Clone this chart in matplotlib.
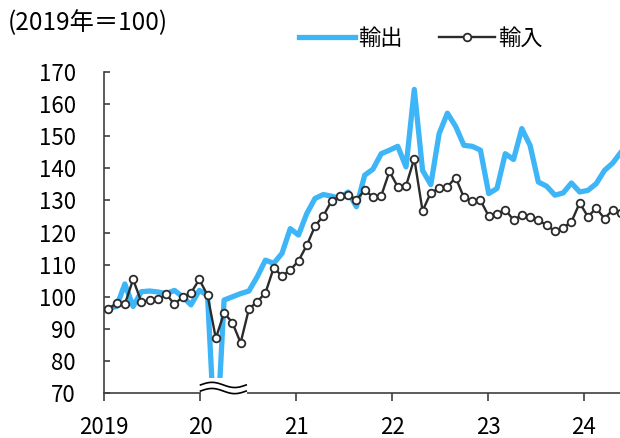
import numpy as np
import matplotlib.pyplot as plt
from matplotlib.lines import Line2D
from matplotlib.patches import Rectangle

# 2019年=100, monthly
exports = [96.4, 97.0, 104.0, 97.0, 101.6, 101.8, 101.5, 101.0, 102.0, 100.0,
           97.5, 102.0, 100.5, 50.0, 99.0, 100.0, 101.0, 101.8, 106.2, 111.4,
           110.4, 113.5, 121.2, 119.2, 125.9, 130.6, 131.8, 131.3, 130.6, 132.6,
           128.0, 137.8, 139.7, 144.5, 145.6, 146.8, 140.4, 164.5, 139.3, 134.9,
           150.7, 157.1, 153.0, 147.1, 146.8, 145.6, 132.1, 133.7, 144.5, 142.7,
           152.3, 147.1, 135.7, 134.4, 131.6, 132.3, 135.4, 132.6, 133.1, 135.2,
           139.3, 141.6, 145.0]
imports = [96.1, 98.1, 97.7, 105.4, 98.4, 99.0, 99.2, 100.8, 97.7, 100.0,
           101.2, 105.4, 100.5, 87.1, 95.0, 92.0, 85.7, 96.2, 98.5, 101.2,
           109.0, 106.5, 108.3, 111.2, 116.0, 122.0, 125.2, 129.8, 131.3, 131.6,
           130.2, 133.1, 131.1, 131.4, 139.0, 134.2, 134.5, 143.0, 126.7, 132.4,
           133.7, 134.2, 137.1, 130.9, 129.8, 130.0, 125.1, 125.8, 127.1, 123.9,
           125.4, 124.9, 123.8, 122.3, 120.4, 121.5, 123.3, 129.2, 124.9, 127.6,
           124.3, 127.1, 126.0]
year_labels = ['2019', '20', '21', '22', '23', '24']
y_ticks = list(range(70, 171, 10))

blue = '#3DB5F7'
dark = '#2B2B2B'
axis_c = '#404040'

plt.rcParams['font.family'] = ['Noto Sans CJK JP', 'DejaVu Sans']

W, H = 620, 438
step = 8.27          # px per month
x0 = 104             # px of left axis

fig = plt.figure(figsize=(W / 100, H / 100), dpi=100)
ax = fig.add_axes([x0 / W, (H - 393.3) / H, (W - x0) / W, (393.3 - 71.7) / H])

x = np.arange(len(exports))
ax.plot(x, exports, color=blue, lw=3.8, solid_joinstyle='round', zorder=2)
ax.plot(x, imports, color=dark, lw=1.7, marker='o', ms=5.5, mfc='white',
        mec=dark, mew=1.3, zorder=3)

left = -(108.3 - x0) / step
ax.set_xlim(left, left + (W - x0) / step)
ax.set_ylim(70, 170)
ax.set_yticks(y_ticks)
ax.set_yticklabels([])
ax.set_xticks([left + 96 * k / step for k in range(len(year_labels))])
ax.set_xticklabels(year_labels)

for s in ['top', 'right']:
    ax.spines[s].set_visible(False)
for s in ['left', 'bottom']:
    ax.spines[s].set_color(axis_c)
    ax.spines[s].set_linewidth(1.2)
ax.tick_params(axis='y', direction='in', length=4, width=1.2, color=axis_c)
ax.tick_params(axis='x', direction='out', length=6, width=1.2, color=axis_c,
               pad=10, labelsize=16)

# y labels sit well left of the axis in the original
ytr = ax.get_yaxis_transform()
for v in y_ticks:
    ax.text(-(x0 - 76) / (W - x0), v, str(v), transform=ytr, ha='right',
            va='center_baseline', fontsize=16)

# axis break
bx0 = (200.5 - 108.3) / step
bx1 = (247 - 108.3) / step
ax.add_patch(Rectangle((bx0, 68.8), bx1 - bx0, 74.7 - 68.8, facecolor='white',
                       edgecolor='none', zorder=5, clip_on=False))
t = np.linspace(0, 1, 80)
for c in (72.6, 70.7):
    ax.plot(bx0 + (bx1 - bx0 - 0.1) * t, c + 0.8 * np.sin(2 * np.pi * t),
            color='black', lw=1.2, zorder=6, clip_on=False)

fig.text(8 / W, 1 - 23 / H, '(2019年＝100)', fontsize=17.5, va='center')

handles = [Line2D([], [], color=blue, lw=3.8),
           Line2D([], [], color=dark, lw=1.7, marker='o', ms=5.5, mfc='white',
                  mec=dark, mew=1.3)]
fig.legend(handles, ['輸出', '輸入'], loc='center', bbox_to_anchor=(421 / W, 1 - 38 / H),
           ncol=2, frameon=False, fontsize=16, handlelength=2.5,
           handletextpad=0.15, columnspacing=1.65, numpoints=1)

fig.savefig('out.png', dpi=100)
